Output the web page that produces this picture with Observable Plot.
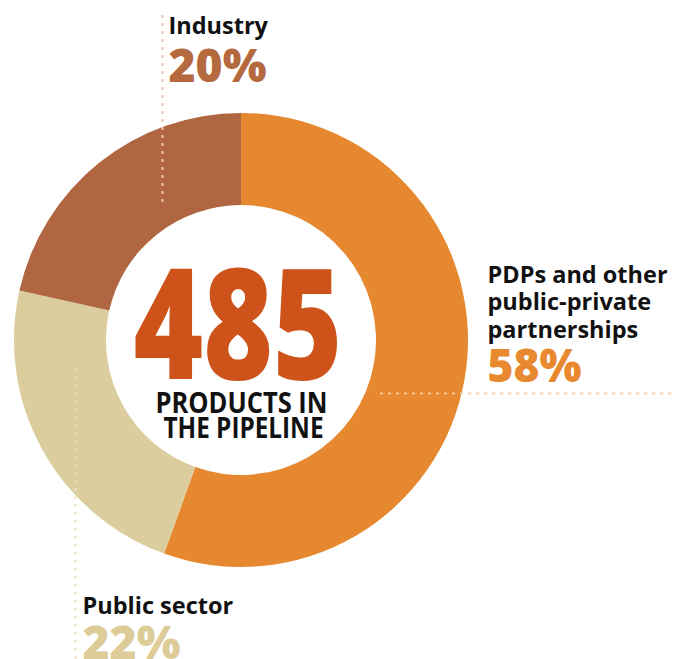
<!DOCTYPE html>
<html>
<head>
<meta charset="utf-8">
<script src="https://cdn.jsdelivr.net/npm/d3@7"></script>
<script src="https://cdn.jsdelivr.net/npm/@observablehq/plot@0.6"></script>
<style>
  html, body { margin: 0; padding: 0; background: #ffffff; }
  #chart { width: 675px; height: 659px; overflow: hidden; }
</style>
</head>
<body>
<div id="chart"></div>
<script>
// ---------- data ----------
const categories    = ["PDPs and other\npublic-private\npartnerships", "Public sector", "Industry"];
const arcShares     = [55.5, 23.0, 21.5];          // share of the ring as drawn
const percentLabels = ["58%", "22%", "20%"];
const segmentColors = ["#E6882F", "#DBCD9D", "#B06641"];
const percentColors = ["#E8892F", "#DDCC98", "#B5693F"];
const guideColors   = ["#F6CBA6", "#EFE4C6", "#ECC8B1"];
const totalProducts = "485";
const centerLines   = ["PRODUCTS IN", "THE PIPELINE"];

// ---------- layout (pixels) ----------
const W = 675, H = 659;
const CX = 241, CY = 340, R_OUT = 227, R_IN = 135;
const labelX    = [487, 82, 168];
const labelY    = [337, 613, 33];     // baseline of last line
const percentX  = [487, 82, 168];
const percentY  = [381, 658, 81];
const percentW  = [94, 98, 98];
const guides = [
  {type: "h", at: 393, from: 380, to: 675},
  {type: "v", at: 75,  from: 368, to: 659},
  {type: "v", at: 162, from: 15,  to: 205}
];

const segments = categories.map((name, i) => ({
  name, share: arcShares[i], color: segmentColors[i],
  pct: percentLabels[i], pctColor: percentColors[i],
  lx: labelX[i], ly: labelY[i], px: percentX[i], py: percentY[i]
}));

function donutMark(index, scales) {
  const sx = scales.x || (v => v), sy = scales.y || (v => v);
  const cx = sx(CX), cy = sy(CY);
  const rOut = sx(CX + R_OUT) - cx, rIn = sx(CX + R_IN) - cx;
  const arcs = d3.pie().sort(null).value(d => d.share)(segments);
  const arc = d3.arc().innerRadius(rIn).outerRadius(rOut);
  const g = d3.create("svg:g").attr("transform", `translate(${cx},${cy})`);
  g.selectAll("path").data(arcs).join("path")
    .attr("d", arc)
    .attr("fill", d => d.data.color);
  return g.node();
}

const hGuides = guides.map((g, i) => ({...g, color: guideColors[i]})).filter(g => g.type === "h");
const vGuides = guides.map((g, i) => ({...g, color: guideColors[i]})).filter(g => g.type === "v");

const FONT = "'Open Sans', 'Noto Sans', 'DejaVu Sans', sans-serif";

const chart = Plot.plot({
  width: W, height: H, margin: 0,
  x: {domain: [0, W], range: [0, W], axis: null},
  y: {domain: [0, H], range: [0, H], axis: null},
  style: {fontFamily: FONT, background: "#ffffff"},
  marks: [
    donutMark,
    Plot.ruleY(hGuides, {y: "at", x1: "from", x2: "to", stroke: "color", strokeWidth: 2, strokeDasharray: "3,5"}),
    Plot.ruleX(vGuides, {x: "at", y1: "from", y2: "to", stroke: "color", strokeWidth: 2, strokeDasharray: "3,5"}),
    // category labels
    Plot.text(segments, {
      x: "lx", y: "ly", text: "name", textAnchor: "start", lineAnchor: "bottom",
      fill: "#111111", fontSize: 23.5, fontWeight: 700, lineHeight: 1.17, fontFamily: FONT
    }),
    // percentages
    Plot.text(segments, {
      x: "px", y: "py", text: "pct", textAnchor: "start", lineAnchor: "bottom",
      fill: "pctColor", fontSize: 46, fontWeight: 800, fontFamily: FONT
    }),
    // center total
    Plot.text([totalProducts], {
      x: () => 237.5, y: () => 378, text: d => d, textAnchor: "middle", lineAnchor: "bottom",
      fill: "#CE531A", fontSize: 154, fontWeight: 800, fontFamily: FONT
    }),
    Plot.text(centerLines, {
      x: (d, i) => [241, 243][i], y: (d, i) => [412, 437][i], text: d => d,
      textAnchor: "middle", lineAnchor: "bottom",
      fill: "#111111", fontSize: 29, fontWeight: 700, fontFamily: FONT
    })
  ]
});

// condense the large figures to match the reference's narrow face
const fitWidths = new Map([
  [totalProducts, 209],
  [centerLines[0], 172],
  [centerLines[1], 160],
  ...percentLabels.map((p, i) => [p, percentW[i]])
]);
d3.select(chart).selectAll("text").each(function () {
  const t = this.textContent;
  if (fitWidths.has(t) && this.querySelectorAll("tspan").length === 0) {
    d3.select(this).attr("textLength", fitWidths.get(t)).attr("lengthAdjust", "spacingAndGlyphs");
  }
});

document.getElementById("chart").appendChild(chart);
</script>
</body>
</html>
